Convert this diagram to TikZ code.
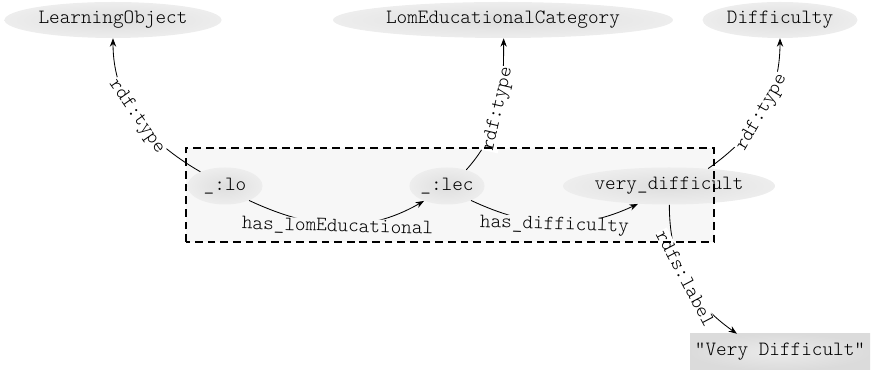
\documentclass[tikz,border=0pt]{standalone}
\usepackage{fontspec}
\setmonofont{Latin Modern Mono Light}
\usepackage{tikz}
\usetikzlibrary{arrows.meta,shapes.geometric,backgrounds}

\definecolor{boxfill}{gray}{0.97}

\begin{document}
\begin{tikzpicture}[
    every node/.style={font=\ttfamily\fontsize{14.4}{16}\selectfont},
    res/.style={ellipse, inner sep=0pt, minimum height=0.9cm,
      shading=radial, inner color=black!13, outer color=black!7},
    lit/.style={rectangle, inner sep=0pt, minimum width=4.5cm, minimum height=0.9cm,
      shading=radial, inner color=black!8, outer color=black!14},
    rel/.style={semithick, -{Stealth[length=6pt,width=4.5pt]}},
    lbl/.style={fill=white, inner sep=0.5pt, sloped},
    group/.style={line width=1.4pt, dash pattern=on 5.5pt off 3.5pt}]
  \useasboundingbox (0,0) rectangle (21.775,9.275);

  % classes along the top
  \node[res, minimum width=5.425cm] (lobj)   at (2.825,8.775)  {LearningObject};
  \node[res, minimum width=8.5cm]   (lomcat) at (12.575,8.775) {LomEducationalCategory};
  \node[res, minimum width=3.875cm] (diff)   at (19.5,8.775)   {Difficulty};

  % resources in the grouped graph
  \node[res, minimum width=1.875cm, minimum height=0.925cm] (lo)  at (5.625,4.625)  {\_:lo};
  \node[res, minimum width=1.875cm, minimum height=0.925cm] (lec) at (11.175,4.625) {\_:lec};
  \node[res, minimum width=5.3cm,   minimum height=0.925cm] (vd)  at (16.725,4.625)  {very\_difficult};

  % literal
  \node[lit] (vdlabel) at (19.5,0.475) {"Very Difficult"};

  \begin{scope}[on background layer]
    \fill[boxfill] (4.65,3.225) rectangle (17.85,5.575);
  \end{scope}

  % typing
  \draw[rel] (lo.150) to[out=150,in=-90] node[lbl] {rdf:type} (lobj.south);
  \draw[rel] (lec.40) to[out=48,in=-90] node[lbl] {rdf:type} (lomcat.-88);
  \draw[rel] (vd.24) to[out=35,in=-90] node[lbl] {rdf:type} (diff.south);

  % properties
  \draw[rel] (lo.-31) to[out=-25,in=-150]
    node[lbl, fill=boxfill, yshift=-2pt] {has\_lomEducational} (lec.213);
  \draw[rel] (lec.-31) to[out=-25,in=-155]
    node[lbl, fill=boxfill, yshift=-2pt] {has\_difficulty} (vd.210);
  \draw[rel] (vd.-89) to[out=-90,in=145] node[lbl] {rdfs:label} (vdlabel.157);

  % named graph border
  \draw[group] (4.65,3.225) rectangle (17.85,5.575);
\end{tikzpicture}
\end{document}
